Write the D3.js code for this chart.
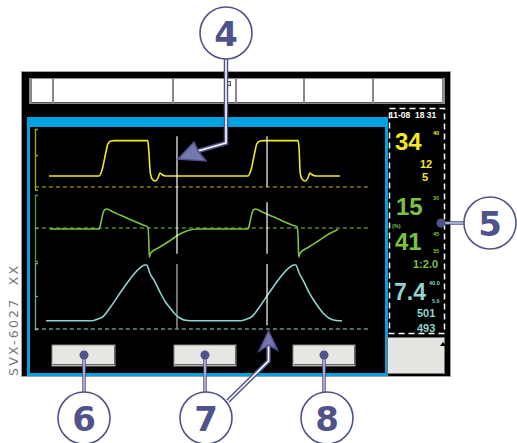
<!DOCTYPE html>
<html>
<head>
<meta charset="utf-8">
<script src="https://cdn.jsdelivr.net/npm/d3@7"></script>
<style>
  body { margin: 0; background: #fff; }
  svg { display: block; }
</style>
</head>
<body>
<script>
// waveform data: [time (s), value]
var pressure = [
  [0, 7.6], [1.03, 7.6], [1.09, 11.7], [1.17, 24.1], [1.21, 29.7], [1.27, 31.7], [1.36, 32],
  [2.03, 32], [2.05, 25.5], [2.08, 10.3], [2.12, 5.5], [2.18, 4.1], [2.24, 6.2], [2.28, 9.7],
  [2.32, 8.6], [2.40, 7.6], [4.09, 7.6], [4.15, 11.7], [4.23, 24.1], [4.27, 29.7], [4.34, 31.7],
  [4.42, 32], [5.12, 32], [5.14, 25.5], [5.16, 10.3], [5.20, 5.5], [5.26, 4.1], [5.32, 6.2],
  [5.36, 9.7], [5.40, 8.6], [5.49, 7.6], [5.98, 7.6]
];
var flow = [
  [0.02, -1.8], [1.03, -1.8], [1.07, 10.9], [1.11, 27], [1.15, 33.6], [1.19, 34.5], [1.32, 29],
  [1.46, 23.6], [1.62, 17.3], [1.79, 10.9], [1.93, 5.5], [2.03, 1.8], [2.05, -21.8], [2.06, -52.7],
  [2.09, -45.5], [2.28, -34.5], [2.49, -22.7], [2.69, -10.9], [2.86, -4.5], [3.06, -1.8],
  [4.09, -1.8], [4.13, 10.9], [4.17, 27], [4.21, 33.6], [4.25, 34.5], [4.38, 29], [4.52, 23.6],
  [4.69, 17.3], [4.85, 10.9], [4.99, 5.5], [5.10, 1.8], [5.12, -21.8], [5.13, -52.7], [5.16, -45.5],
  [5.34, -34.5], [5.55, -22.7], [5.75, -10.9], [5.94, -2.7]
];
var volume = [
  [-0.06, 0], [0.88, 0], [0.99, 14], [1.11, 37], [1.25, 116], [1.46, 252], [1.62, 352], [1.73, 416],
  [1.87, 480], [1.97, 507], [2.01, 507], [2.07, 434], [2.18, 352], [2.28, 261], [2.38, 180],
  [2.49, 116], [2.59, 61], [2.69, 25], [2.84, 2], [3.0, 0], [3.94, 0], [4.05, 14], [4.17, 37],
  [4.31, 116], [4.52, 252], [4.68, 352], [4.79, 416], [4.93, 480], [5.03, 507], [5.07, 507],
  [5.14, 434], [5.24, 352], [5.34, 261], [5.45, 180], [5.55, 116], [5.65, 61], [5.75, 25],
  [5.90, 2], [6.02, 0]
];
var cursors = [2.63, 4.48];

// readouts in the side panel
var pressureBig = "34", pressureSmall = ["12", "5"], pressureLimit = ["40"];
var oxygenBig = ["15", "41"], oxygenLimits = ["30", "45", "35"], ratio = "1:2.0";
var minVolBig = "7.4", minVolLimits = ["40.0", "5.0"], tidalVols = ["501", "493"];
var clock = "11-08  18 31";
var callouts = ["4", "5", "6", "7", "8"];
var deviceCode = "SVX-6027  XX";

var W = 517, H = 443;
var navy = "#50528a";
var yellow = "#f0e926", green = "#7cc142", cyan = "#8fd2cf";

var svg = d3.select("body").append("svg").attr("width", W).attr("height", H);

// screen
svg.append("rect").attr("x", 21.5).attr("y", 71.5).attr("width", 429).attr("height", 305)
  .attr("fill", "#000").attr("stroke", "#a0a0a0");

// top button bar
svg.append("rect").attr("x", 29).attr("y", 78).attr("width", 416).attr("height", 26).attr("fill", "#8a8a8a");
var topBoxes = [[32, 52], [54, 172], [174, 235], [237, 303], [305, 372], [374, 442]];
topBoxes.forEach(function(b) {
  svg.append("rect").attr("x", b[0]).attr("y", 79).attr("width", b[1] - b[0]).attr("height", 23)
    .attr("fill", "#fff");
  svg.append("line").attr("x1", b[0]).attr("x2", b[1]).attr("y1", 102.5).attr("y2", 102.5)
    .attr("stroke", "#555");
});
svg.append("rect").attr("x", 224.5).attr("y", 81.5).attr("width", 6).attr("height", 4)
  .attr("fill", "#ddd").attr("stroke", "#555");

// blue waveform frame
svg.append("rect").attr("x", 27).attr("y", 117).attr("width", 361).attr("height", 259).attr("fill", "#00a3e0");
svg.append("rect").attr("x", 30).attr("y", 127).attr("width", 355).attr("height", 246).attr("fill", "#000");

// scales
var x = d3.scaleLinear().domain([0, 6]).range([49, 341]);
var py = d3.scaleLinear().domain([0, 40]).range([187, 129]);
var fy = d3.scaleLinear().domain([-60, 60]).range([261, 195]);
var vy = d3.scaleLinear().domain([-75, 525]).range([329, 263]);

var panels = [
  {data: pressure, y: py, color: yellow, axis: "#b4a600", dash: "#c8b800", base: 0, ticks: [22], dom: [-2, 40]},
  {data: flow, y: fy, color: green, axis: "#5f9a2a", dash: "#86c04a", base: 0, ticks: [0], dom: [-60, 60]},
  {data: volume, y: vy, color: cyan, axis: "#6fa8a8", dash: "#9fd6d4", base: -75, ticks: [225], dom: [-75, 525]}
];

panels.forEach(function(p) {
  var ax = p.y.copy().domain(p.dom).range([p.y(p.dom[0]), p.y(p.dom[1])]);
  var g = svg.append("g").attr("transform", "translate(35,0)")
    .call(d3.axisRight(ax).tickValues(p.ticks).tickSize(3).tickSizeOuter(3).tickFormat(""));
  g.selectAll("path, line").attr("stroke", p.axis).attr("stroke-width", 1.3);

  svg.append("line").attr("x1", x(-0.29)).attr("x2", x(6.6))
    .attr("y1", p.y(p.base)).attr("y2", p.y(p.base))
    .attr("stroke", p.dash).attr("stroke-width", 1.2).attr("stroke-dasharray", "4,3");

  svg.append("path").datum(p.data)
    .attr("d", d3.line().x(function(d) { return x(d[0]); }).y(function(d) { return p.y(d[1]); })
      .curve(d3.curveMonotoneX))
    .attr("fill", "none").attr("stroke", p.color).attr("stroke-width", 1.6);
});

// cursor lines
cursors.forEach(function(t, i) {
  var segs = i === 0 ? [[py(35), fy(-47)], [vy(515), vy(-70)]]
                     : [[py(35), py(0)], [fy(47), fy(-47)], [vy(515), vy(-40)]];
  segs.forEach(function(s, j) {
    svg.append("line").attr("x1", x(t)).attr("x2", x(t)).attr("y1", s[0]).attr("y2", s[1])
      .attr("stroke", (i === 0 && j === 1) ? "#b8b8b8" : "#fff").attr("stroke-width", 1.2);
  });
});

// bottom soft keys
var keys = [[52, 115], [174, 236], [293, 355]];
keys.forEach(function(k) {
  svg.append("rect").attr("x", k[0]).attr("y", 345).attr("width", k[1] - k[0]).attr("height", 21)
    .attr("fill", "#e6e6e2").attr("stroke", "#8a8a8a");
  svg.append("polyline").attr("points", [[k[0] + 1, 364.5], [k[1] - 0.5, 364.5], [k[1] - 0.5, 346]].join(" "))
    .attr("fill", "none").attr("stroke", "#666").attr("stroke-width", 1);
});

// side readout panel
svg.append("rect").attr("x", 389.5).attr("y", 108.5).attr("width", 55).attr("height", 225)
  .attr("fill", "none").attr("stroke", "#fff").attr("stroke-width", 1.5).attr("stroke-dasharray", "6,4");
svg.append("rect").attr("x", 387.5).attr("y", 337.5).attr("width", 57).attr("height", 36)
  .attr("fill", "#e4e4e0").attr("stroke", "#777");
svg.append("path").attr("d", "M440,346 L443,342 L446,346 Z").attr("fill", "#000");

function txt(s, tx, ty, size, color, weight) {
  return svg.append("text").attr("x", tx).attr("y", ty).text(s)
    .attr("font-family", "Liberation Sans, Arial, sans-serif").attr("font-size", size)
    .attr("font-weight", weight || "bold").attr("fill", color).style("white-space", "pre");
}
txt(clock, 389, 118, 8.5, "#fff");
txt(pressureBig, 395, 150, 24, yellow);
txt(pressureLimit[0], 433, 135, 5.5, yellow);
txt(pressureSmall[0], 420, 168, 11, yellow);
txt(pressureSmall[1], 422, 181, 11, yellow);
txt(oxygenBig[0], 396, 215, 24, green);
txt(oxygenLimits[0], 433, 200, 5.5, green);
txt("(%)", 392, 228, 5.5, green);
txt(oxygenBig[1], 395, 250, 24, green);
txt(oxygenLimits[1], 433, 236, 5.5, green);
txt(oxygenLimits[2], 433, 253, 5.5, green);
txt(ratio, 413, 268, 11, green);
txt(minVolBig, 394, 300, 23, cyan);
txt(minVolLimits[0], 429, 285, 5.5, cyan);
txt(minVolLimits[1], 432, 303, 5.5, cyan);
txt(tidalVols[0], 417, 317, 11, cyan);
txt(tidalVols[1], 417, 332, 11, cyan);

// device code
svg.append("text").attr("transform", "translate(18,376) rotate(-90)").text(deviceCode)
  .attr("font-family", "DejaVu Sans, sans-serif").attr("font-size", 12.5).attr("fill", "#777")
  .attr("letter-spacing", 2.2).style("white-space", "pre");

// callout leader lines (double stroke)
function leader(pts, wide, thin) {
  var d = d3.line()(pts);
  svg.append("path").attr("d", d).attr("fill", "none").attr("stroke", navy).attr("stroke-width", wide)
    .attr("stroke-linejoin", "miter");
  svg.append("path").attr("d", d).attr("fill", "none").attr("stroke", "#fff").attr("stroke-width", thin)
    .attr("stroke-linejoin", "miter");
}
function head(pts) {
  svg.append("path").attr("d", d3.line()(pts) + "Z").attr("fill", "#7677ad")
    .attr("stroke", navy).attr("stroke-width", 1.5).attr("stroke-linejoin", "miter");
}
function dot(cx, cy) {
  svg.append("circle").attr("cx", cx).attr("cy", cy).attr("r", 4.5).attr("fill", navy);
}

leader([[226, 59], [226, 143], [198, 151]], 4.5, 1.6);
head([[178, 159], [194, 142], [198, 151], [206, 161]]);

leader([[228, 401], [268.5, 361], [268.5, 346]], 4.5, 1.6);
head([[268.5, 331], [259, 351], [268.5, 345], [277.5, 350]]);

keys.forEach(function(k) {
  var cx = Math.round((k[0] + k[1]) / 2);
  leader([[cx, 355], [cx, 393]], 3.5, 1);
  dot(cx, 355);
});
leader([[441, 223], [464, 223]], 3.5, 1);
dot(441, 223);

var circles = [[226, 33], [490, 223], [84, 418], [206, 418], [327, 418]];
circles.forEach(function(c, i) {
  svg.append("circle").attr("cx", c[0]).attr("cy", c[1]).attr("r", 26)
    .attr("fill", "#fff").attr("stroke", navy).attr("stroke-width", 1.6);
  svg.append("text").attr("x", c[0]).attr("y", c[1] + 12.5).attr("text-anchor", "middle")
    .text(callouts[i]).attr("font-family", "DejaVu Sans, sans-serif").attr("font-weight", "bold")
    .attr("font-size", 34).attr("fill", navy);
});
</script>
</body>
</html>
